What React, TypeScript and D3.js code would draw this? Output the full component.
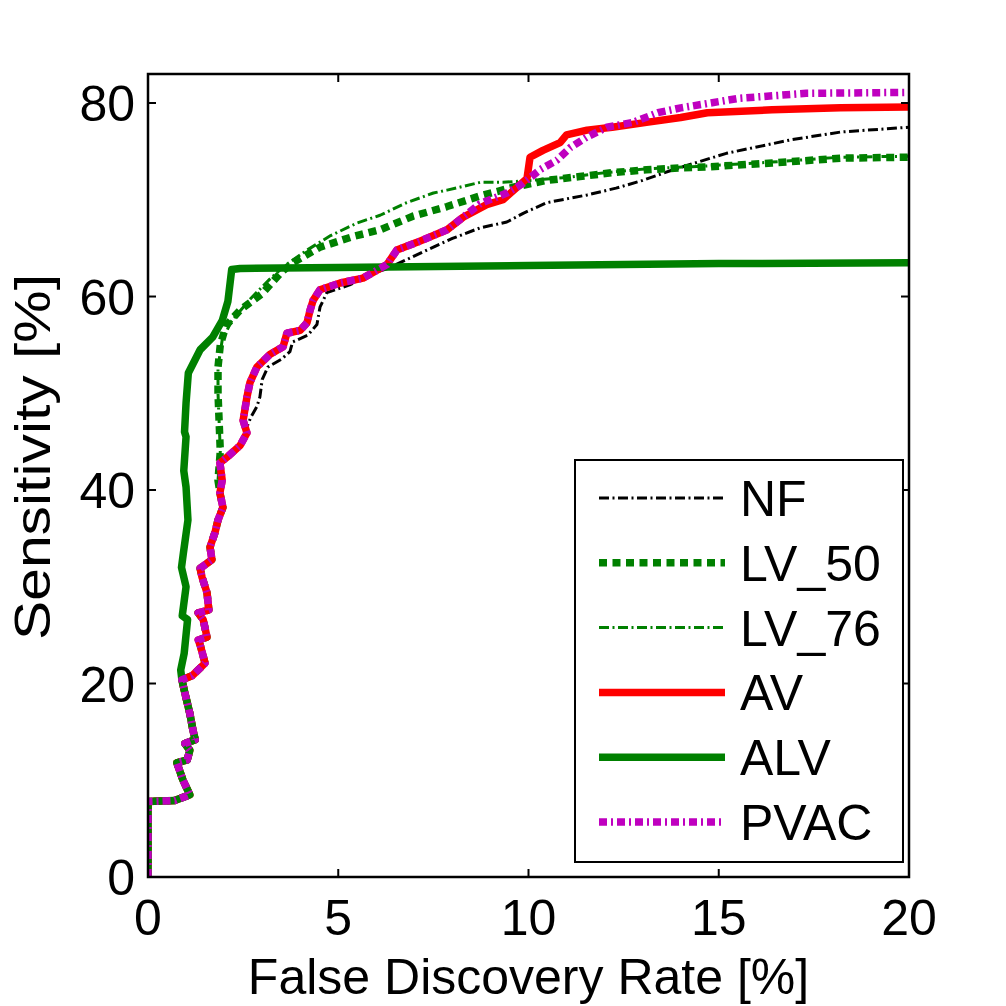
import React from "react";
import * as d3 from "d3";

type Pt = [number, number];

const X_TICKS = [0, 5, 10, 15, 20];
const Y_TICKS = [0, 20, 40, 60, 80];
const X_LABEL = "False Discovery Rate [%]";
const Y_LABEL = "Sensitivity [%]";

// shared start of every curve
const BASE: Pt[] = [[0,0],[0,7.8],[0.7,7.9],[1.1,8.5],[0.92,10],[0.76,11.8],[1.03,12.1],[1.1,13.1],[0.97,13.8],[1.24,14.2],[1.18,15.2],[1.1,16.9],[0.97,19],[0.89,20.4]];
// shared by AV, PVAC, NF, LV
const MID: Pt[] = [[1.16,20.8],[1.37,21.6],[1.5,22.1],[1.37,24],[1.32,24.5],[1.55,24.8],[1.45,26.6],[1.32,27.3],[1.6,27.6],[1.55,29.4],[1.42,31],[1.37,31.9],[1.68,32.8],[1.63,34.1],[1.76,35.6],[1.84,36.9],[1.97,38.2],[1.89,39.7]];
const AV_LOW: Pt[] = [[1.95,41],[1.89,42.8],[2.08,43.4]];
const AV_MIDHIGH: Pt[] = [[2.42,44.6],[2.6,45.9],[2.5,47.2],[2.6,49.6],[2.68,51.1],[2.86,52.7],[3.2,54],[3.55,54.8],[3.65,56.2],[4.0,56.5],[4.18,57.3],[4.26,58.6],[4.34,59.6],[4.52,60.7],[5.05,61.4],[5.65,61.9],[6.28,63.3],[6.54,64.8],[7.07,65.6],[7.86,66.9],[8.28,68.2]];
const AV_TAIL: Pt[] = [[8.9,69.5],[9.33,70],[9.7,71.3],[9.96,72.2],[10.04,74.4],[10.38,75.1],[10.83,75.9],[11.0,76.7],[11.54,77.2],[12.2,77.5],[13.1,78],[14,78.5],[14.7,79],[16.4,79.3],[18.2,79.5],[20,79.6]];
const PVAC_TAIL: Pt[] = [[8.73,69.6],[9.43,70.7],[9.86,71.7],[10.3,73.1],[10.75,74.1],[11.1,75.4],[11.54,76.5],[12.06,77.5],[12.75,78],[13.4,79],[14,79.5],[15.56,80.5],[17.3,81],[20,81.1]];
const NF_TAIL: Pt[] = [[2.34,44.1],[2.5,45.5],[2.7,47.5],[2.86,48.6],[2.94,49.6],[3.0,51.4],[3.15,52.7],[3.5,53.5],[3.73,54.3],[3.8,55.3],[4.2,56],[4.44,57.1],[4.52,58.9],[4.7,60.4],[5.3,61.2],[5.9,62.4],[6.3,62.9],[6.9,64],[7.33,64.8],[8.0,66],[8.73,67.1],[9.43,67.7],[9.86,68.6],[10.48,69.7],[11.54,70.5],[12.3,71.2],[13,72],[13.8,73.1],[15.2,74.8],[16.9,76.2],[18.2,77],[20,77.5]];
const LV_STEM: Pt[] = [[1.84,41],[1.9,44],[1.87,47],[1.84,50],[1.84,52.7]];
const LV50_TAIL: Pt[] = [[1.9,55],[2.05,57],[2.42,58.6],[3.0,60.3],[3.5,62.5],[3.81,63.5],[4.52,65.1],[5.39,66.2],[6.1,66.9],[6.96,68.3],[7.86,69.3],[8.73,70.4],[9.6,71.3],[10.48,72],[11.35,72.4],[12.2,72.8],[13.1,73.1],[14,73.3],[14.7,73.4],[16.4,73.8],[18.2,74.3],[20,74.4]];
const LV76_TAIL: Pt[] = [[1.95,55.5],[2.2,57.5],[2.7,59.8],[3.2,61.8],[3.6,63.2],[4.18,64.8],[4.8,66.3],[5.5,67.6],[6.1,68.4],[6.8,69.7],[7.5,70.7],[7.86,71],[8.73,71.8],[9.33,71.8],[10.04,72],[11,72.3],[12,72.8],[13.1,73.2],[14.7,73.5],[16.4,73.9],[18.2,74.4],[20,74.5]];
const ALV_TAIL: Pt[] = [[0.86,21.4],[0.95,23.1],[1.04,26.6],[0.9,27],[1.0,30],[0.88,32],[0.93,33.5],[1.05,36.9],[1.0,40.3],[0.94,42],[1.0,45.5],[0.96,46],[1.0,49],[1.06,52.1],[1.37,54.5],[1.7,55.8],[1.95,57.5],[2.1,59.5],[2.2,62.8],[2.42,62.9],[5,63],[10,63.2],[15,63.4],[20,63.5]];

const NF: Pt[] = [...BASE, ...MID, ...AV_LOW, ...NF_TAIL];
const LV_50: Pt[] = [...BASE, ...MID, ...LV_STEM, ...LV50_TAIL];
const LV_76: Pt[] = [...BASE, ...MID, ...LV_STEM, ...LV76_TAIL];
const AV: Pt[] = [...BASE, ...MID, ...AV_LOW, ...AV_MIDHIGH, ...AV_TAIL];
const ALV: Pt[] = [...BASE, ...ALV_TAIL];
const PVAC: Pt[] = [...BASE, ...MID, ...AV_LOW, ...AV_MIDHIGH, ...PVAC_TAIL];

const SERIES_NAMES = ["NF", "LV_50", "LV_76", "AV", "ALV", "PVAC"];
const SERIES_DATA = [NF, LV_50, LV_76, AV, ALV, PVAC];
const STYLES = [
  { color: "#000000", width: 3, dash: "10,3.5,2,3.5" },
  { color: "#008000", width: 7.5, dash: "8,5.5" },
  { color: "#008000", width: 3, dash: "10,3.5,2,3.5" },
  { color: "#ff0000", width: 7.5, dash: "none" },
  { color: "#008000", width: 7.5, dash: "none" },
  { color: "#bf00bf", width: 7.5, dash: "8,4,2,4" },
];

const FONT = "'Liberation Sans', Arial, Helvetica, sans-serif";

export default function App() {
  const L = 148, R = 909, T = 74, B = 877;
  const x = d3.scaleLinear().domain([0, 20]).range([L, R]);
  const y = d3.scaleLinear().domain([0, 83]).range([B, T]);
  const line = d3.line<Pt>().x(d => x(d[0])).y(d => y(d[1]));
  const tick = 8;

  const legX0 = 599, legX1 = 725, legY0 = 498, legStep = 64.8;

  return (
    <svg width={1006} height={1006} style={{ position: "absolute", left: 0, top: 0, background: "#fff" }}>
      <rect x={0} y={0} width={1006} height={1006} fill="#fff" />
      <defs>
        <clipPath id="plotclip">
          <rect x={L} y={T} width={R - L} height={B - T} />
        </clipPath>
      </defs>
      <g clipPath="url(#plotclip)">
        {SERIES_DATA.map((d, i) => (
          <path key={i} d={line(d) || ""} fill="none" stroke={STYLES[i].color}
            strokeWidth={STYLES[i].width} strokeDasharray={STYLES[i].dash}
            strokeLinejoin="round" />
        ))}
      </g>
      <rect x={L} y={T} width={R - L} height={B - T} fill="none" stroke="#000" strokeWidth={2.5} />
      {X_TICKS.map(t => (
        <g key={"x" + t}>
          <line x1={x(t)} x2={x(t)} y1={B} y2={B - tick} stroke="#000" strokeWidth={2} />
          <line x1={x(t)} x2={x(t)} y1={T} y2={T + tick} stroke="#000" strokeWidth={2} />
          <text x={x(t)} y={935} textAnchor="middle" fontFamily={FONT} fontSize={50}>{t}</text>
        </g>
      ))}
      {Y_TICKS.map(t => (
        <g key={"y" + t}>
          <line x1={L} x2={L + tick} y1={y(t)} y2={y(t)} stroke="#000" strokeWidth={2} />
          <line x1={R} x2={R - tick} y1={y(t)} y2={y(t)} stroke="#000" strokeWidth={2} />
          <text x={135} y={y(t) + 18} textAnchor="end" fontFamily={FONT} fontSize={50}>{t}</text>
        </g>
      ))}
      <text x={(L + R) / 2} y={994} textAnchor="middle" fontFamily={FONT} fontSize={50}>{X_LABEL}</text>
      <text transform={`translate(50,457) rotate(-90)`} textAnchor="middle" fontFamily={FONT} fontSize={50}
        textLength={366} lengthAdjust="spacingAndGlyphs">{Y_LABEL}</text>
      <rect x={575} y={460} width={328} height={402} fill="#fff" stroke="#000" strokeWidth={2} />
      {SERIES_NAMES.map((n, i) => {
        const ly = legY0 + i * legStep;
        return (
          <g key={n}>
            <line x1={legX0} x2={legX1} y1={ly} y2={ly} stroke={STYLES[i].color}
              strokeWidth={STYLES[i].width} strokeDasharray={STYLES[i].dash} />
            <text x={740} y={ly + 18} fontFamily={FONT} fontSize={50}>{n}</text>
          </g>
        );
      })}
    </svg>
  );
}
